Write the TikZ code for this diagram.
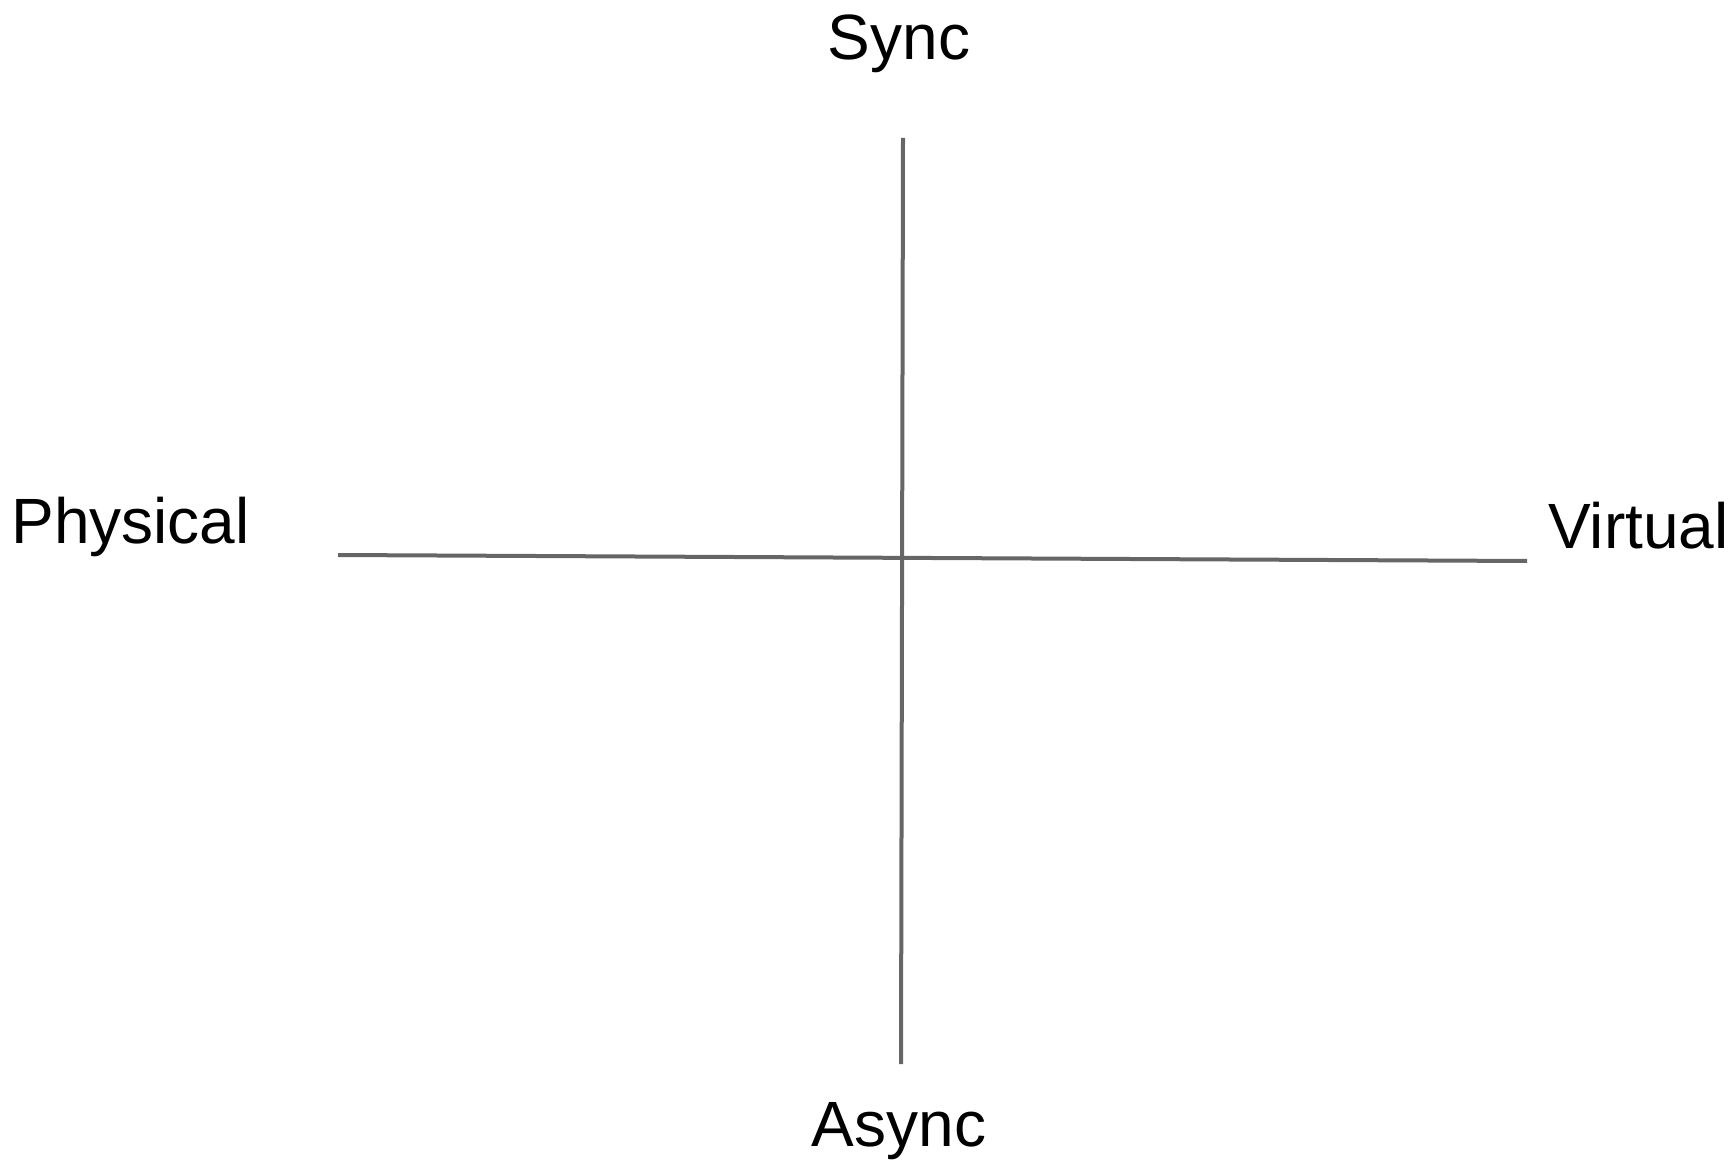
\documentclass[tikz,border=0pt]{standalone}
\usepackage{fontspec}
\setmainfont{Liberation Sans}

\begin{document}
\begin{tikzpicture}[x=.5pt,y=-.5pt,line cap=butt,
    axis/.style={draw=black!60,line width=2pt},
    lbl/.style={inner sep=0pt,font=\fontsize{32}{36}\selectfont}]
  \useasboundingbox (0,0) rectangle (1729,1160);

  \coordinate (top) at (903,138);
  \coordinate (bot) at (901,1064);
  \coordinate (lft) at (338,555);
  \coordinate (rgt) at (1527,561);

  \draw[axis] (top) -- (bot);
  \draw[axis] (lft) -- (rgt);

  \node[lbl,anchor=base] (sync) at (899,60) {Sync};
  \node[lbl,anchor=base] (async) at (899,1146) {Async};
  \node[lbl,anchor=base west] (physical) at (11,543) {Physical};
  \node[lbl,anchor=base west] (virtual) at (1548,548) {Virtual};
\end{tikzpicture}
\end{document}
